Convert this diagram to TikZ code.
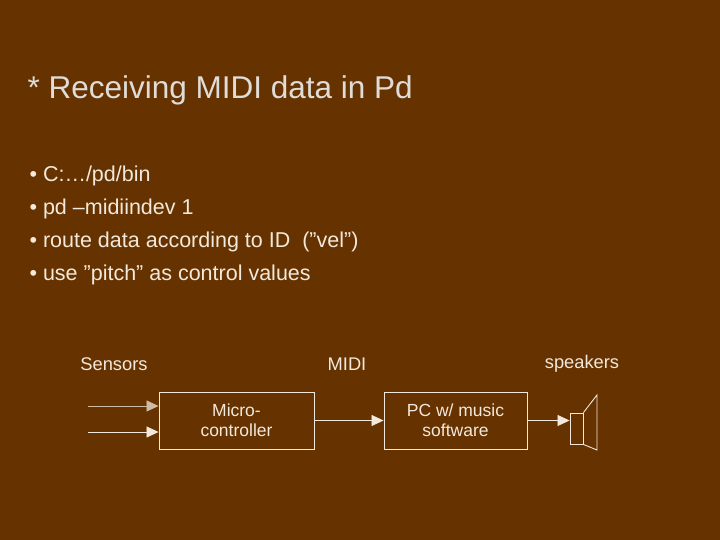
\documentclass[tikz,border=0pt]{standalone}
\usepackage{fontspec}
\setmainfont{Liberation Sans}
\usetikzlibrary{arrows.meta}
\definecolor{bg}{HTML}{663300}
\definecolor{fg}{HTML}{F2E8DC}
\definecolor{ttl}{HTML}{E0DCD8}
\begin{document}
\begin{tikzpicture}[x=1pt,y=-1pt,
  box/.style={draw=fg,line width=0.9pt,text=fg,align=center,font=\fontsize{17.5}{20}\selectfont,inner sep=0pt},
  lab/.style={text=fg,font=\fontsize{18.3}{21}\selectfont},
  bul/.style={text=fg,anchor=west,font=\fontsize{21.5}{25}\selectfont},
  arr/.style={draw=fg,line width=0.8pt,-{Triangle[length=12pt,width=11pt]}}]
\fill[bg] (0,0) rectangle (720,540);
\useasboundingbox (0,0) rectangle (720,540);
\node[anchor=west,text=ttl,font=\fontsize{31.5}{36}\selectfont] (title) at (24,90) {* Receiving MIDI data in Pd};
\node[bul] (b1) at (26,176) {• C:…/pd/bin};
\node[bul] (b2) at (26,209) {• pd –midiindev 1};
\node[bul] (b3) at (26,242) {• route data according to ID \ (”vel”)};
\node[bul] (b4) at (26,275) {• use ”pitch” as control values};
\node[box,minimum width=155pt,minimum height=57pt] (mc) at (236.5,420.5) {Micro-\\controller};
\node[box,minimum width=143pt,minimum height=57pt] (pc) at (455.5,420.5) {PC w/ music\\software};
\node[draw=fg,line width=0.9pt,minimum width=13pt,minimum height=31pt,inner sep=0pt] (spk) at (576.5,428.5) {};
\draw[fg,line width=0.9pt] (spk.north east) -- (597,395) -- (597,450) -- (spk.south east);
\coordinate (s1) at (88,406);
\coordinate (s2) at (88,432);
\draw[arr,draw=fg!75!bg] (s1) -- (mc.west |- s1);
\draw[arr] (s2) -- (mc.west |- s2);
\draw[arr] (mc.east) -- (pc.west);
\draw[arr] (pc.east) -- (spk.west |- pc.east);
\node[lab] (l1) at (114,364) {Sensors};
\node[lab] (l2) at (347,364) {MIDI};
\node[lab] (l3) at (582,364) {speakers};
\end{tikzpicture}
\end{document}
